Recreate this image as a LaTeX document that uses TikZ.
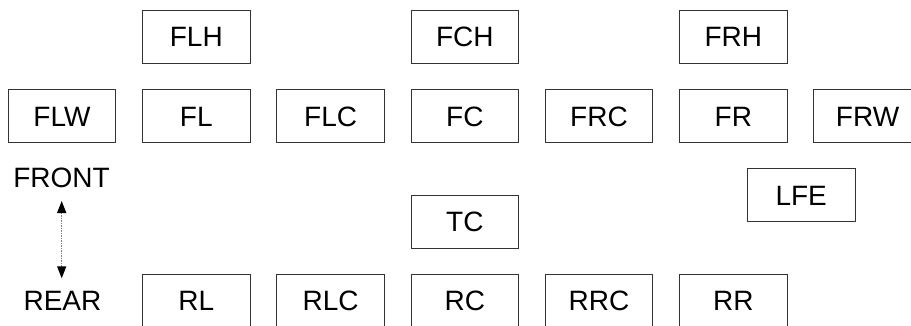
\documentclass[tikz,border=0pt]{standalone}
\usepackage{fontspec}
\setmainfont{Liberation Sans}
\usetikzlibrary{arrows.meta}
\tikzset{
  chbox/.style={draw=black!80, line width=0.9pt, minimum width=107.5pt, minimum height=53pt, inner sep=0pt, font=\fontsize{28}{30}\selectfont},
  label/.style={inner sep=0pt, font=\fontsize{28}{30}\selectfont},
  dirarrow/.style={draw=black!50, line width=1.5pt, densely dotted, {Triangle[length=12pt,width=9pt,black]}-{Triangle[length=12pt,width=9pt,black]}}
}
\begin{document}
\begin{tikzpicture}[x=1pt,y=-1pt]
\useasboundingbox (0,0) rectangle (911,325);
\clip (0,0) rectangle (911,325);
% top row
\node[chbox] (FLH) at (196.3,37.2) {FLH};
\node[chbox] (FCH) at (464.8,37.2) {FCH};
\node[chbox] (FRH) at (733.3,37.2) {FRH};
% front row
\node[chbox] (FLW) at (62,116.4) {FLW};
\node[chbox] (FL)  at (196.3,116.4) {FL};
\node[chbox] (FLC) at (330.6,116.4) {FLC};
\node[chbox] (FC)  at (464.8,116.4) {FC};
\node[chbox] (FRC) at (599,116.4) {FRC};
\node[chbox] (FR)  at (733.3,116.4) {FR};
\node[chbox] (FRW) at (867.6,116.4) {FRW};
% middle
\node[chbox] (LFE) at (801.2,195.4) {LFE};
\node[chbox] (TC)  at (464.8,221.7) {TC};
% rear row
\node[chbox] (RL)  at (196.3,300.8) {RL};
\node[chbox] (RLC) at (330.6,300.8) {RLC};
\node[chbox] (RC)  at (464.8,300.8) {RC};
\node[chbox] (RRC) at (599,300.8) {RRC};
\node[chbox] (RR)  at (733.3,300.8) {RR};
% labels
\node[label] (front) at (61.5,177.8) {FRONT};
\node[label] (rear)  at (62.5,301) {REAR};
\coordinate (ftip) at (61.7,201);
\coordinate (rtip) at (61.7,278.3);
\draw[dirarrow] (ftip) -- (rtip);
\end{tikzpicture}
\end{document}
